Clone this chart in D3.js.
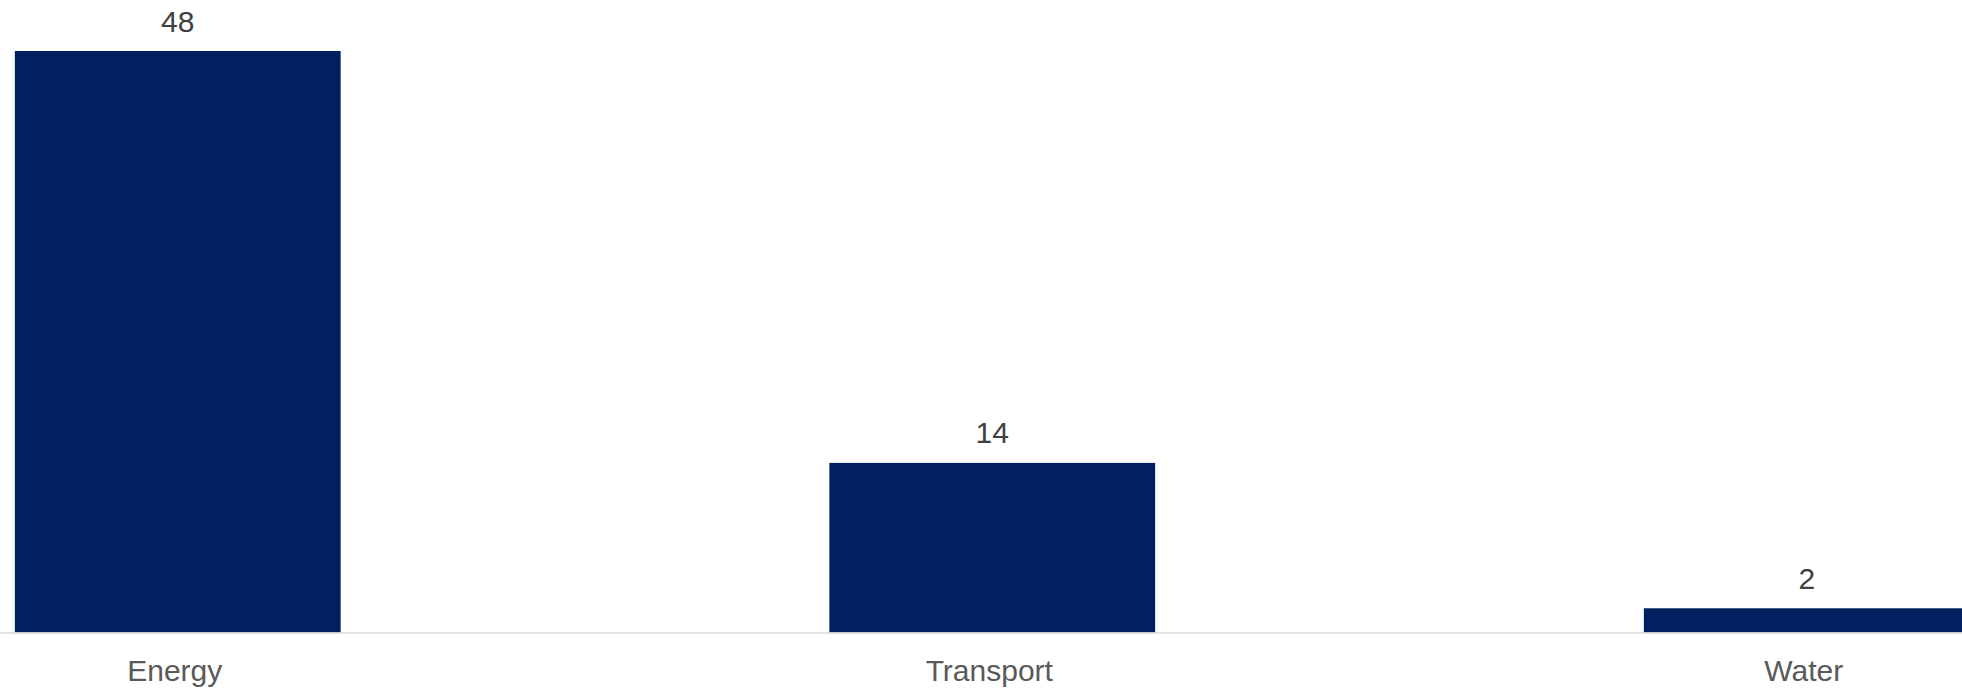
<!DOCTYPE html>
<html>
<head>
<meta charset="utf-8">
<script src="https://cdn.jsdelivr.net/npm/d3@7"></script>
<style>
  body { margin: 0; background: #fff; }
  svg { display: block; font-family: "Liberation Sans", Arial, sans-serif; }
</style>
</head>
<body>
<svg width="1962" height="690"></svg>
<script>
var categories = ["Energy", "Transport", "Water"];
var values = [48, 14, 2];

var svg = d3.select("svg"),
    width = +svg.attr("width"),
    height = +svg.attr("height");

// plot area is wider than the window, the last bar gets cut at the right edge
var x = d3.scaleBand()
    .domain(categories)
    .range([-229.5, 2214])
    .paddingInner(0.6)
    .paddingOuter(0.3);

var baseY = 632.5;
var y = d3.scaleLinear()
    .domain([0, d3.max(values)])
    .range([baseY, 51]);

var data = categories.map(function(c, i) { return {name: c, value: values[i]}; });

svg.selectAll("rect.bar")
    .data(data)
    .enter().append("rect")
    .attr("class", "bar")
    .attr("x", function(d) { return x(d.name); })
    .attr("y", function(d) { return y(d.value); })
    .attr("width", x.bandwidth())
    .attr("height", function(d) { return baseY - y(d.value); })
    .attr("fill", "#002060");

// baseline
var xAxis = svg.append("g")
    .attr("transform", "translate(0," + baseY + ")")
    .call(d3.axisBottom(x).tickSize(0).tickPadding(27));
xAxis.select(".domain")
    .attr("d", "M0,0.5H" + width)
    .attr("stroke", "#d9d9d9")
    .attr("stroke-width", 1.5);
xAxis.selectAll("text")
    .attr("fill", "#595959")
    .attr("dx", "-3")
    .style("font-size", "30px")
    .style("font-family", "'Liberation Sans', Arial, sans-serif");

// value labels
svg.selectAll("text.val")
    .data(data)
    .enter().append("text")
    .attr("class", "val")
    .attr("x", function(d) { return x(d.name) + x.bandwidth() / 2; })
    .attr("y", function(d) { return y(d.value) - 19.5; })
    .attr("text-anchor", "middle")
    .attr("fill", "#404040")
    .style("font-size", "30px")
    .text(function(d) { return d.value; });
</script>
</body>
</html>
